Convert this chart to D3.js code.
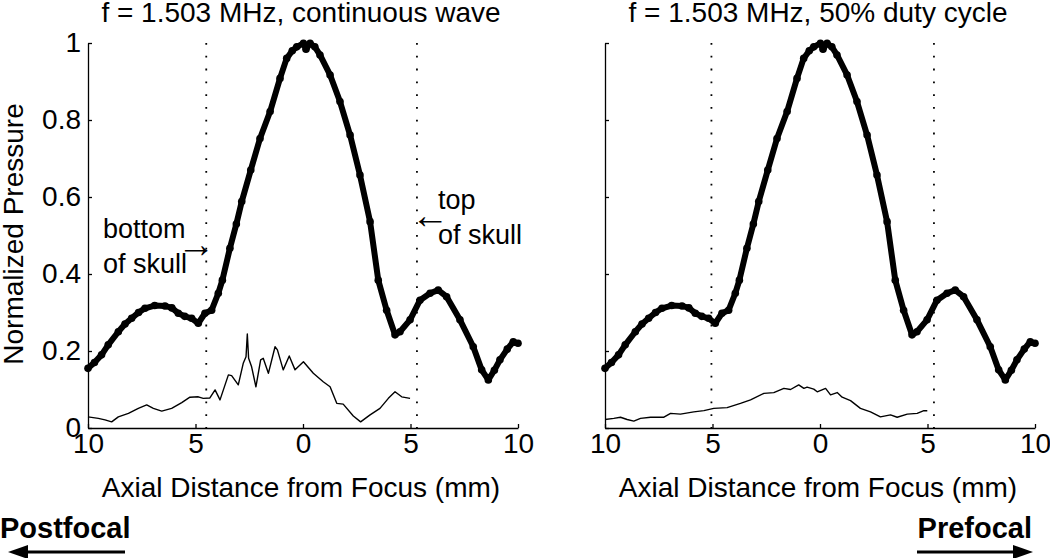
<!DOCTYPE html>
<html>
<head>
<meta charset="utf-8">
<script src="https://cdn.jsdelivr.net/npm/d3@7"></script>
<style>
    body { margin: 0; background: #fff; }
    svg text { font-family: "Liberation Sans", Arial, Helvetica, sans-serif; fill: #000; }
</style>
</head>
<body>
<div id="chart"></div>
<script>
// axial position (mm) and normalized pressure of the thick curve (same in both panels)
var thickX = [-10, -9.7, -9.37, -9.06, -8.59, -8.28, -7.97, -7.65, -7.35, -6.9, -6.42, -6.1, -5.8, -5.5, -5.18, -4.87,
    -4.56, -4.25, -3.94, -3.75, -3.4, -3.1, -2.85, -2.43, -2.0, -1.53, -1.07, -0.76, -0.5, -0.29, 0.02, 0.14, 0.33,
    0.55, 0.79, 1.26, 1.72, 2.19, 2.65, 3.12, 3.5, 3.89, 4.28, 4.51, 4.98, 5.44, 5.91, 6.29, 6.68, 7.3, 7.92, 8.31,
    8.62, 8.9, 9.16, 9.5, 9.78, 10];
var thickY = [0.155, 0.17, 0.19, 0.216, 0.25, 0.27, 0.285, 0.3, 0.311, 0.318, 0.317, 0.312, 0.298, 0.29, 0.285, 0.272,
    0.298, 0.306, 0.35, 0.384, 0.467, 0.53, 0.588, 0.67, 0.752, 0.822, 0.908, 0.96, 0.98, 0.99, 0.999, 0.984, 0.999,
    0.99, 0.969, 0.917, 0.848, 0.761, 0.657, 0.536, 0.384, 0.306, 0.242, 0.25, 0.281, 0.332, 0.35, 0.358, 0.341, 0.281,
    0.211, 0.151, 0.125, 0.15, 0.177, 0.205, 0.224, 0.22];

// thin curve, continuous wave
var cwX = [-10, -9.52, -9.21, -8.9, -8.59, -8.12, -7.66, -7.27, -6.96, -6.57, -6.11, -5.64, -5.26, -4.87, -4.64, -4.33,
    -4.09, -3.86, -3.47, -3.32, -3.01, -2.78, -2.65, -2.59, -2.53, -2.39, -2.19, -1.97, -1.85, -1.61, -1.3, -1.19,
    -0.92, -0.64, -0.37, 0.02, 0.48, 0.94, 1.26, 1.57, 1.87, 2.34, 2.68, 3.12, 3.58, 3.97, 4.28, 4.59, 4.98];
var cwY = [0.029, 0.025, 0.021, 0.016, 0.029, 0.038, 0.051, 0.06, 0.051, 0.044, 0.051, 0.066, 0.08, 0.081, 0.077, 0.078,
    0.099, 0.073, 0.138, 0.136, 0.112, 0.168, 0.185, 0.244, 0.181, 0.159, 0.107, 0.177, 0.181, 0.142, 0.211, 0.203,
    0.151, 0.187, 0.151, 0.172, 0.142, 0.12, 0.107, 0.064, 0.062, 0.031, 0.016, 0.034, 0.051, 0.077, 0.094, 0.081, 0.077];

// thin curve, 50% duty cycle
var dcX = [-10, -9.59, -9.28, -8.97, -8.66, -8.35, -7.88, -7.26, -6.95, -6.49, -5.87, -5.4, -4.94, -4.32, -3.7, -3.23,
    -2.61, -2.15, -1.68, -1.37, -0.99, -0.75, -0.6, -0.29, -0.13, 0.26, 0.49, 0.8, 1.03, 1.42, 1.88, 2.35, 2.81, 3.28,
    3.59, 4.06, 4.52, 4.83, 4.99];
var dcY = [0.022, 0.025, 0.028, 0.022, 0.018, 0.025, 0.028, 0.028, 0.038, 0.036, 0.042, 0.045, 0.051, 0.053, 0.064, 0.073,
    0.09, 0.092, 0.103, 0.1, 0.112, 0.103, 0.106, 0.101, 0.094, 0.103, 0.086, 0.092, 0.08, 0.071, 0.051, 0.042, 0.029,
    0.034, 0.028, 0.036, 0.038, 0.045, 0.045];

var titles = ["f = 1.503 MHz, continuous wave", "f = 1.503 MHz, 50% duty cycle"];
var skullLines = [[-4.5, 5.3], [-5.05, 5.3]];
var xTicks = [-10, -5, 0, 5, 10];
var xTickLabels = ["10", "5", "0", "5", "10"];
var yTicks = [0, 0.2, 0.4, 0.6, 0.8, 1];
var yTickLabels = ["0", "0.2", "0.4", "0.6", "0.8", "1"];

var width = 1050;
var height = 558;
var plotTop = 43, plotBottom = 428;
var panelLeft = [88, 605];
var panelWidth = 430;

var svg = d3.select("#chart").append("svg")
    .attr("width", width)
    .attr("height", height);

var yScale = d3.scaleLinear().domain([0, 1]).range([plotBottom, plotTop]);

function zip(xs, ys) {
    return xs.map((x, i) => ({ x: x, y: ys[i] }));
}

function drawPanel(idx, thin) {
    var x0 = panelLeft[idx];
    var xScale = d3.scaleLinear().domain([-10, 10]).range([x0, x0 + panelWidth]);
    var g = svg.append("g");

    // dotted skull markers
    g.selectAll(".skull")
        .data(skullLines[idx])
        .enter().append("line")
        .attr("x1", d => xScale(d)).attr("x2", d => xScale(d))
        .attr("y1", plotTop).attr("y2", plotBottom)
        .attr("stroke", "#000")
        .attr("stroke-width", 1.8)
        .attr("stroke-dasharray", "1.8,11");

    var line = d3.line().x(d => xScale(d.x)).y(d => yScale(d.y));

    // thin curve
    g.append("path")
        .datum(zip(thin[0], thin[1]))
        .attr("fill", "none")
        .attr("stroke", "#000")
        .attr("stroke-width", 1.4)
        .attr("stroke-linejoin", "round")
        .attr("d", line);

    // thick curve with dot markers
    var thick = zip(thickX, thickY);
    g.append("path")
        .datum(thick)
        .attr("fill", "none")
        .attr("stroke", "#000")
        .attr("stroke-width", 6)
        .attr("stroke-linejoin", "round")
        .attr("d", line);
    g.selectAll(".dot")
        .data(thick)
        .enter().append("circle")
        .attr("cx", d => xScale(d.x))
        .attr("cy", d => yScale(d.y))
        .attr("r", 3.8)
        .attr("fill", "#000");

    // axes, ticks pointing inward
    var xAxis = g.append("g")
        .attr("transform", `translate(0, ${plotBottom})`)
        .call(d3.axisBottom(xScale).tickValues(xTicks)
            .tickFormat((d, i) => xTickLabels[i])
            .tickSizeInner(-4).tickSizeOuter(0));
    xAxis.selectAll("text").attr("y", 25).attr("dy", 0).style("font-size", "28px");

    var yAxis = g.append("g")
        .attr("transform", `translate(${x0}, 0)`)
        .call(d3.axisLeft(yScale).tickValues(yTicks)
            .tickFormat((d, i) => idx === 0 ? yTickLabels[i] : "")
            .tickSizeInner(-4).tickSizeOuter(0).tickPadding(7));
    yAxis.selectAll("text").style("font-size", "28px");

    [xAxis, yAxis].forEach(a => {
        a.select(".domain").attr("stroke-width", 1.3);
        a.selectAll(".tick line").attr("stroke-width", 1.3);
        a.attr("font-family", null);
    });

    g.append("text")
        .attr("x", x0 + panelWidth / 2 - 2)
        .attr("y", 22)
        .attr("text-anchor", "middle")
        .style("font-size", "28px")
        .text(titles[idx]);

    g.append("text")
        .attr("x", x0 + panelWidth / 2 - 2)
        .attr("y", 497)
        .attr("text-anchor", "middle")
        .style("font-size", "28px")
        .text("Axial Distance from Focus (mm)");
}

drawPanel(0, [cwX, cwY]);
drawPanel(1, [dcX, dcY]);

// y label
svg.append("text")
    .attr("transform", "translate(23, 234) rotate(-90)")
    .attr("text-anchor", "middle")
    .style("font-size", "28px")
    .text("Normalized Pressure");

// skull annotations
function note(x, y, lines) {
    var t = svg.append("text").attr("x", x).attr("y", y).style("font-size", "27px");
    lines.forEach((s, i) => {
        t.append("tspan").attr("x", x).attr("dy", i === 0 ? 0 : 34.5).text(s);
    });
}
note(103, 238, ["bottom", "of skull"]);
note(438, 209, ["top", "of skull"]);
svg.append("text").attr("x", 177).attr("y", 257)
    .style("font-size", "38px").text("→");
svg.append("text").attr("x", 411).attr("y", 228)
    .style("font-size", "38px").text("←");

// postfocal / prefocal direction arrows
svg.append("text")
    .attr("x", 0).attr("y", 538)
    .style("font-size", "29px").style("font-weight", "bold")
    .text("Postfocal");
svg.append("text")
    .attr("x", 1032).attr("y", 538)
    .attr("text-anchor", "end")
    .style("font-size", "29px").style("font-weight", "bold")
    .text("Prefocal");

svg.append("line").attr("x1", 24).attr("x2", 125).attr("y1", 552).attr("y2", 552)
    .attr("stroke", "#000").attr("stroke-width", 3);
svg.append("path").attr("d", "M8,552 L28,545 L28,559 Z").attr("fill", "#000");
svg.append("line").attr("x1", 917).attr("x2", 1016).attr("y1", 552).attr("y2", 552)
    .attr("stroke", "#000").attr("stroke-width", 3);
svg.append("path").attr("d", "M1033,552 L1013,545 L1013,559 Z").attr("fill", "#000");
</script>
</body>
</html>
